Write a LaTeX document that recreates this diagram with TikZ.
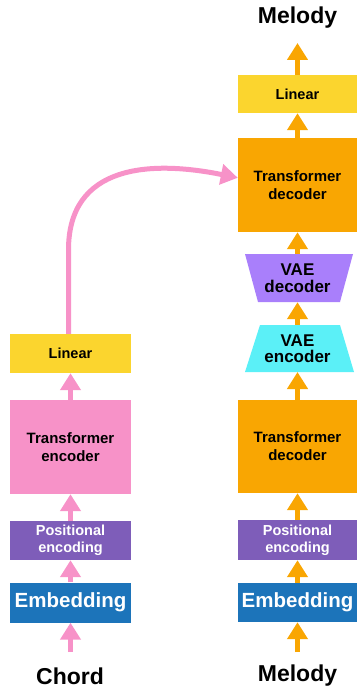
\documentclass[tikz,border=0pt]{standalone}
\usepackage{fontspec}
\setmainfont{Liberation Sans}
\usetikzlibrary{arrows.meta,calc}
\definecolor{cpink}{HTML}{F792C8}
\definecolor{corange}{HTML}{F9A602}
\definecolor{cyellow}{HTML}{FBD52E}
\definecolor{cpos}{HTML}{7E5DB9}
\definecolor{cemb}{HTML}{1C74BA}
\definecolor{cvdec}{HTML}{A97FFB}
\definecolor{cvenc}{HTML}{5BF0F7}
\tikzset{
  blk/.style={minimum width=#1, inner sep=0pt, align=center, font=\bfseries},
  arrp/.style={draw=cpink, line width=5pt, -{Triangle[width=20pt,length=17pt]}},
  arro/.style={draw=corange, line width=5pt, -{Triangle[width=20pt,length=17pt]}},
  lbl/.style={font=\fontsize{23}{26}\selectfont\bfseries, inner sep=0pt}
}
\begin{document}
\begin{tikzpicture}[x=1pt,y=-1pt]
\useasboundingbox (0,0) rectangle (357,690);
% left column
\node[blk=121pt, minimum height=39pt, fill=cyellow, font=\fontsize{14.5}{17}\selectfont\bfseries] (lin1) at (70.5,353.5) {Linear};
\node[blk=121pt, minimum height=94pt, fill=cpink, font=\fontsize{15}{18}\selectfont\bfseries] (tenc) at (70.5,447) {Transformer\\encoder};
\node[blk=121pt, minimum height=39pt, fill=cpos, text=white, font=\fontsize{14.5}{17}\selectfont\bfseries] (pos1) at (70.5,540.5) {Positional\\encoding};
\node[blk=121pt, minimum height=40pt, fill=cemb, text=white, font=\fontsize{20.5}{22}\selectfont\bfseries] (emb1) at (70.5,602.5) {Embedding};
\node[lbl] (chord) at (70,676) {Chord};
\coordinate (chin) at (70.5,652);
% right column
\node[lbl] (melout) at (297.5,18) {Melody};
\coordinate (melt) at (297.5,43);
\node[blk=119pt, minimum height=38pt, fill=cyellow, font=\fontsize{14.5}{17}\selectfont\bfseries] (lin2) at (297.5,94) {Linear};
\node[blk=119pt, minimum height=94pt, fill=corange, font=\fontsize{15}{18}\selectfont\bfseries] (tdec1) at (297.5,185) {Transformer\\decoder};
\fill[cvdec] (245,254) -- (353,254) -- (340,302) -- (258,302) -- cycle;
\node[blk=82pt, minimum height=48pt, font=\fontsize{17}{16.5}\selectfont\bfseries] (vdec) at (297.5,278) {VAE\\decoder};
\fill[cvenc] (260,325) -- (340,325) -- (354,372) -- (245,372) -- cycle;
\node[blk=80pt, minimum height=47pt, font=\fontsize{17}{16.5}\selectfont\bfseries] (venc) at (297.5,348.5) {VAE\\encoder};
\node[blk=119pt, minimum height=93pt, fill=corange, font=\fontsize{15}{18}\selectfont\bfseries] (tdec2) at (297.5,446.5) {Transformer\\decoder};
\node[blk=119pt, minimum height=40pt, fill=cpos, text=white, font=\fontsize{14.5}{17}\selectfont\bfseries] (pos2) at (297.5,540) {Positional\\encoding};
\node[blk=119pt, minimum height=39pt, fill=cemb, text=white, font=\fontsize{20.5}{22}\selectfont\bfseries] (emb2) at (297.5,602.5) {Embedding};
\node[lbl] (melin) at (297.5,676) {Melody};
\coordinate (mlin) at (297.5,652);
% left arrows
\draw[arrp] (chin) -- (emb1.south);
\draw[arrp] (emb1.north) -- (pos1.south);
\draw[arrp] (pos1.north) -- (tenc.south);
\draw[arrp] (tenc.north) -- (lin1.south);
\coordinate (tgt) at ($(tdec1.north west)+(0,40)$);
\draw[arrp] ($(lin1.north)+(-2,0)$) -- ++(0,-84) .. controls +(0,-85) and (150,160) .. (tgt);
% right arrows
\draw[arro] (mlin) -- (emb2.south);
\draw[arro] (emb2.north) -- (pos2.south);
\draw[arro] (pos2.north) -- (tdec2.south);
\draw[arro] (tdec2.north) -- (tdec2.north |- 0,372);
\draw[arro] (venc.north) -- (vdec.south);
\draw[arro] (vdec.north) -- (tdec1.south);
\draw[arro] (tdec1.north) -- (lin2.south);
\draw[arro] (lin2.north) -- (melt);
\end{tikzpicture}
\end{document}
